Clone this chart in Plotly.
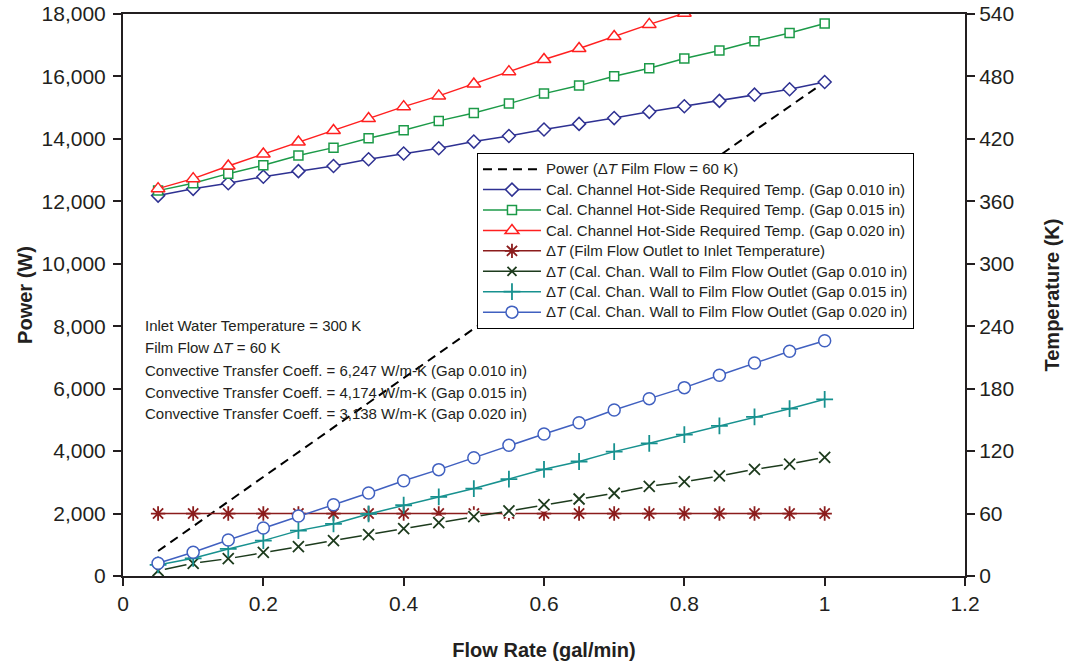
import plotly.graph_objects as go

# ---------------- data ----------------
flow = [0.05, 0.10, 0.15, 0.20, 0.25, 0.30, 0.35, 0.40, 0.45, 0.50,
        0.55, 0.60, 0.65, 0.70, 0.75, 0.80, 0.85, 0.90, 0.95, 1.00]

power_w = [800, 1590, 2380, 3170, 3960, 4750, 5540, 6340, 7130, 7920,
           8710, 9500, 10300, 11090, 11880, 12670, 13460, 14260, 15050, 15820]

hot_gap010 = [365.5, 372, 377.4, 383.7, 389, 394, 400.4, 405.9, 411, 417.4,
              422.8, 429, 434.4, 440, 446, 451.4, 456.5, 462.5, 467.7, 474.7]
hot_gap015 = [370.3, 377.4, 386.6, 394.7, 404, 411.6, 420.6, 428.3, 437.3, 444.9,
              453.9, 463.5, 471.2, 480.2, 487.9, 497.2, 504.9, 513.9, 521.8, 530.8]
hot_gap020 = [372.2, 381.8, 394, 405.5, 417, 428, 439.5, 451, 461.3, 472.8,
              484.6, 496.2, 506.8, 518.3, 530, 540.7, 552]

film_dt = [60, 60, 60, 60, 60, 60, 60, 60, 60, 60,
           60, 60, 60, 60, 60, 60, 60, 60, 60, 60]

wall_gap010 = [5.1, 12.2, 16.7, 22.8, 28.2, 34, 39.7, 45.5, 51.3, 57,
               62.5, 68.5, 74, 79.5, 86.2, 90.6, 96.1, 102.5, 107.6, 114]
wall_gap015 = [10.6, 17, 26, 34, 43.6, 50, 59.6, 68, 76, 84,
               93, 102.5, 110, 119.5, 127.5, 135.8, 144.2, 152.8, 160.8, 169.8]
wall_gap020 = [12.2, 22.8, 34.6, 46.1, 57.7, 68.5, 79.8, 91.6, 102.2, 113.7,
               125.6, 136.5, 147.3, 159.5, 170.4, 181, 192.9, 204.7, 215.9, 226.1]

x_ticks = [0, 0.2, 0.4, 0.6, 0.8, 1.0, 1.2]
x_tick_text = ["0", "0.2", "0.4", "0.6", "0.8", "1", "1.2"]

series_names = [
    "Power (Δ<i>T</i> Film Flow = 60 K)",
    "Cal. Channel Hot-Side Required Temp. (Gap 0.010 in)",
    "Cal. Channel Hot-Side Required Temp. (Gap 0.015 in)",
    "Cal. Channel Hot-Side Required Temp. (Gap 0.020 in)",
    "Δ<i>T</i> (Film Flow Outlet to Inlet Temperature)",
    "Δ<i>T</i> (Cal. Chan. Wall to Film Flow Outlet (Gap 0.010 in)",
    "Δ<i>T</i> (Cal. Chan. Wall to Film Flow Outlet (Gap 0.015 in)",
    "Δ<i>T</i> (Cal. Chan. Wall to Film Flow Outlet (Gap 0.020 in)",
]

notes = [
    "Inlet Water Temperature = 300 K",
    "Film Flow Δ<i>T</i> = 60 K",
    "Convective Transfer Coeff. = 6,247 W/m-K (Gap 0.010 in)",
    "Convective Transfer Coeff. = 4,174 W/m-K (Gap 0.015 in)",
    "Convective Transfer Coeff. = 3,138 W/m-K (Gap 0.020 in)",
]

# ---------------- style ----------------
AX = "#231f20"
TXT = "#231f20"
FONT = "Liberation Sans, Arial, Helvetica, sans-serif"

NAVY = "#2e3192"
GREEN = "#1c9a48"
RED = "#ff2020"
DKRED = "#8b1c1c"
DKGREEN = "#1d3b1d"
TEAL = "#17918f"
BLUE = "#4060c0"


def lg(name):
    # legend text drawn at 15px while the legend row pitch follows a smaller base size
    return '<span style="font-size:15px">' + name + '</span>'


def filled(color, symbol, size):
    return dict(symbol=symbol, size=size, color="white",
                line=dict(color=color, width=1.5))


fig = go.Figure()

# Power (left axis)
fig.add_trace(go.Scatter(
    x=flow, y=power_w, mode="lines", yaxis="y",
    line=dict(color="black", width=2, dash="9px,6px"),
    name=lg(series_names[0])))

fig.add_trace(go.Scatter(
    x=flow, y=hot_gap010, mode="lines+markers", yaxis="y2",
    line=dict(color=NAVY, width=1.5), marker=filled(NAVY, "diamond", 10),
    name=lg(series_names[1])))
fig.add_trace(go.Scatter(
    x=flow, y=hot_gap015, mode="lines+markers", yaxis="y2",
    line=dict(color=GREEN, width=1.5), marker=filled(GREEN, "square", 9),
    name=lg(series_names[2])))
fig.add_trace(go.Scatter(
    x=flow[:len(hot_gap020)], y=hot_gap020, mode="lines+markers", yaxis="y2",
    line=dict(color=RED, width=1.5), marker=filled(RED, "triangle-up", 12),
    name=lg(series_names[3])))
fig.add_trace(go.Scatter(
    x=flow, y=film_dt, mode="lines+markers", yaxis="y2",
    line=dict(color=DKRED, width=1.5),
    marker=dict(symbol="asterisk-open", size=12, color=DKRED, line=dict(color=DKRED, width=1.8)),
    name=lg(series_names[4])))

# Gap 0.010 wall dT: line with white halo around x markers
fig.add_trace(go.Scatter(
    x=flow, y=wall_gap010, mode="lines+markers", yaxis="y2",
    line=dict(color=DKGREEN, width=1.5),
    marker=dict(symbol="circle", size=14, color="white", line=dict(width=0)),
    showlegend=False, hoverinfo="skip"))
fig.add_trace(go.Scatter(
    x=flow, y=wall_gap010, mode="markers", yaxis="y2",
    marker=dict(symbol="x-thin-open", size=11, color=DKGREEN, line=dict(color=DKGREEN, width=1.8)),
    showlegend=False))
fig.add_trace(go.Scatter(
    x=[None], y=[None], mode="lines+markers", yaxis="y2",
    line=dict(color=DKGREEN, width=1.5),
    marker=dict(symbol="x-thin-open", size=9, color=DKGREEN, line=dict(color=DKGREEN, width=1.8)),
    name=lg(series_names[5])))

fig.add_trace(go.Scatter(
    x=flow, y=wall_gap015, mode="lines+markers", yaxis="y2",
    line=dict(color=TEAL, width=1.5),
    marker=dict(symbol="cross-thin-open", size=12, color=TEAL, line=dict(color=TEAL, width=1.8)),
    name=lg(series_names[6])))
fig.add_trace(go.Scatter(
    x=flow, y=wall_gap020, mode="lines+markers", yaxis="y2",
    line=dict(color=BLUE, width=1.5), marker=filled(BLUE, "circle", 12),
    name=lg(series_names[7])))

annotations = []
line_y = [0.4466, 0.4057, 0.3665, 0.3274, 0.2883]
for txt, yy in zip(notes, line_y):
    annotations.append(dict(
        x=0.0238, y=yy, xref="paper", yref="paper", xanchor="left", yanchor="middle",
        text=txt, showarrow=False, align="left",
        font=dict(family=FONT, size=15, color=TXT)))

fig.update_layout(
    width=1067, height=667,
    margin=dict(l=123, r=102, t=14, b=91),
    paper_bgcolor="white", plot_bgcolor="white",
    showlegend=True,
    legend=dict(x=0.4204, y=0.7527, xanchor="left", yanchor="top",
                bgcolor="white", bordercolor="black", borderwidth=1,
                font=dict(family=FONT, size=13.4, color=TXT),
                tracegroupgap=0, itemwidth=58),
    xaxis=dict(range=[0, 1.2], tickvals=x_ticks, ticktext=x_tick_text,
               showline=True, linecolor=AX, linewidth=2, mirror=True,
               ticks="outside", ticklen=8, tickwidth=1.5, tickcolor=AX,
               showgrid=False, zeroline=False, automargin=False,
               ticklabeloverflow="allow",
               tickfont=dict(family=FONT, size=21, color=TXT),
               title=dict(text="<b>Flow Rate (gal/min)</b>", standoff=29,
                          font=dict(family=FONT, size=20, color=TXT))),
    yaxis=dict(range=[0, 18000], dtick=2000, tickformat=",d",
               showline=True, linecolor=AX, linewidth=2,
               ticks="outside", ticklen=8, tickwidth=1.5, tickcolor=AX,
               showgrid=False, zeroline=False, automargin=False,
               ticklabelstandoff=3, ticklabeloverflow="allow",
               tickfont=dict(family=FONT, size=21, color=TXT),
               title=dict(text="<b>Power (W)</b>", standoff=4,
                          font=dict(family=FONT, size=20, color=TXT))),
    yaxis2=dict(range=[0, 540], dtick=60, overlaying="y", side="right",
                showline=True, linecolor=AX, linewidth=2,
                ticks="outside", ticklen=8, tickwidth=1.5, tickcolor=AX,
                showgrid=False, zeroline=False, automargin=False,
                ticklabeloverflow="allow",
                tickfont=dict(family=FONT, size=21, color=TXT),
                title=dict(text="<b>Temperature (K)</b>", standoff=32,
                           font=dict(family=FONT, size=20, color=TXT))),
    annotations=annotations,
)

fig.write_html("out.html",
               config={"displayModeBar": False},
               post_script="document.body.style.margin='0';document.body.style.overflow='hidden';")
